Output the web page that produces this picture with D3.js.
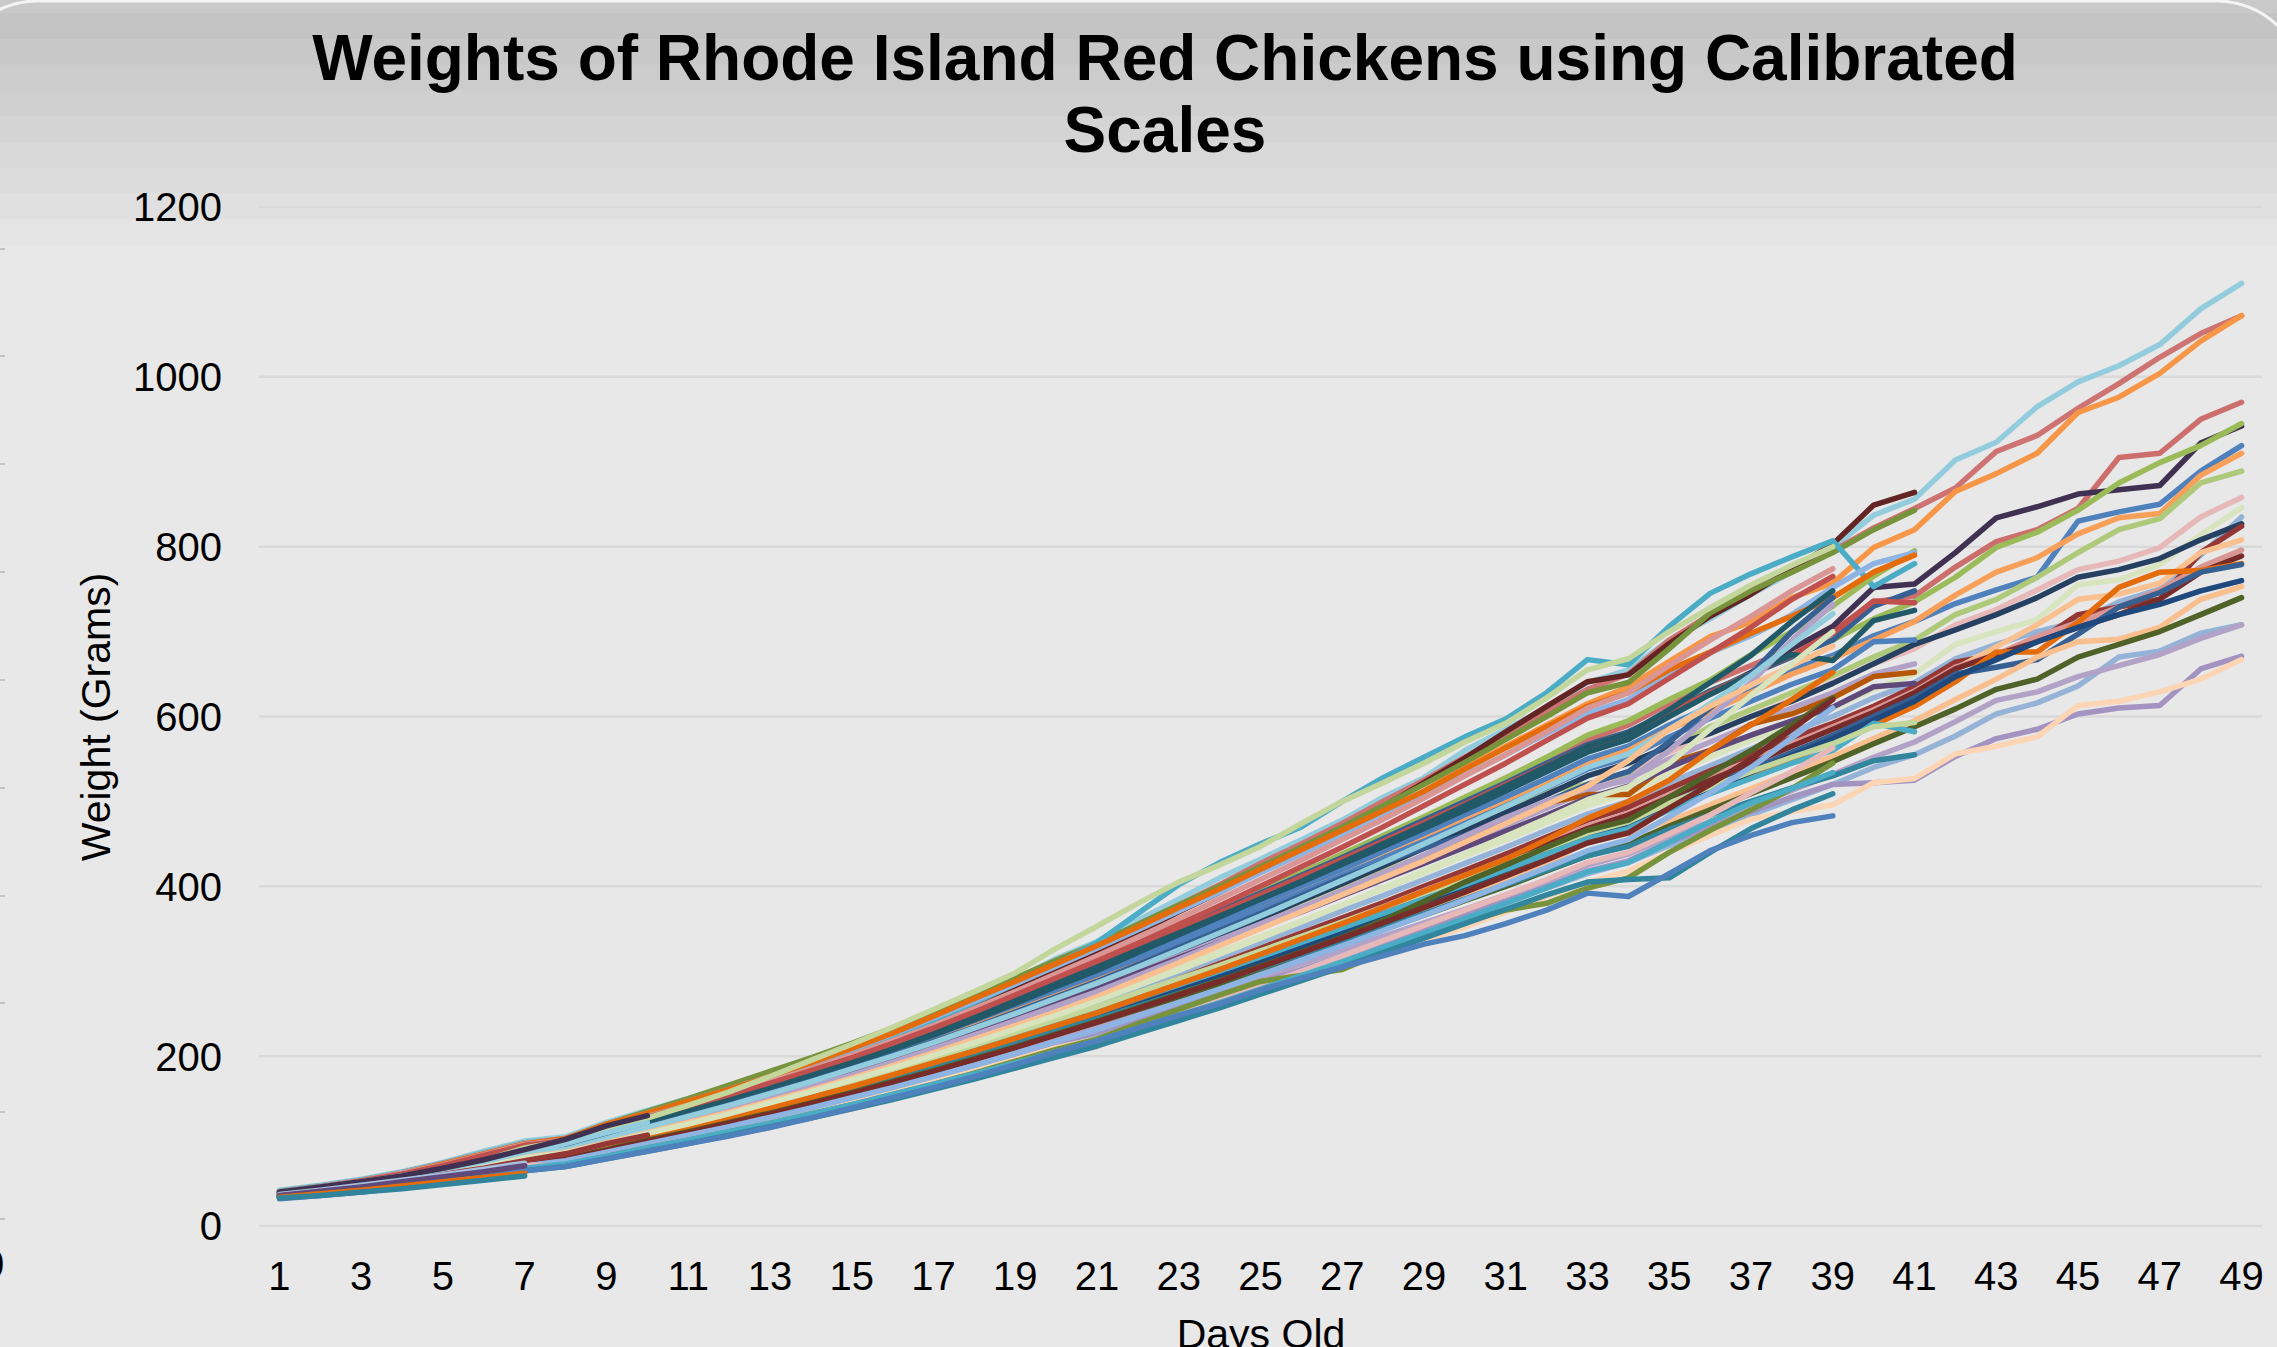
<!DOCTYPE html>
<meta charset="utf-8">
<style>
  body { margin: 0; background: #fff; }
  text { font-family: "Liberation Sans", Arial, sans-serif; fill: #000; }
  .grid { stroke: #d9d9d9; stroke-width: 2.5; }
  .chick { fill: none; stroke-width: 5.5; stroke-linejoin: round; stroke-linecap: round; }
</style>
<svg width="2277" height="1347"></svg>
<script src="https://cdnjs.cloudflare.com/ajax/libs/d3/7.8.5/d3.min.js"></script>
<script>

var days = [1,2,3,4,5,6,7,8,9,10,11,12,13,14,15,16,17,18,19,20,21,22,23,24,25,
            26,27,28,29,30,31,32,33,34,35,36,37,38,39,40,41,42,43,44,45,46,47,48,49];
var dayLabels = [1,3,5,7,9,11,13,15,17,19,21,23,25,27,29,31,33,35,37,39,41,43,45,47,49];
var weightTicks = [0,200,400,600,800,1000,1200];

// weighed up to day 49
var chick01 = [42,48,55,64,75,88,100,105,122,136,150,165,180,195,210,228,248,270,290,315,335,360,385,410,432,455,478,505,528,560,585,610,640,655,690,715,744,770,799,837,856,902,923,965,994,1013,1038,1080,1110];
var chick02 = [40,46,53,62,73,85,97,103,120,133,146,160,175,190,205,224,243,265,285,308,330,355,378,402,427,450,474,500,525,552,578,605,632,650,690,720,748,775,795,822,845,869,912,931,963,992,1023,1051,1072];
var chick03 = [40,46,52,61,71,83,95,100,117,130,144,158,173,188,203,220,240,260,280,303,325,347,370,394,417,440,464,488,512,540,565,590,615,635,665,694,711,740,757,799,820,865,886,910,958,976,1004,1042,1072];
var chick04 = [39,45,51,59,69,80,92,97,112,124,137,150,164,178,193,210,228,247,266,286,305,326,348,370,390,412,434,456,478,502,525,548,572,590,615,640,660,680,700,735,742,776,806,820,845,905,910,950,970];
var chick05 = [38,44,50,58,67,78,89,95,110,123,136,149,163,177,192,208,226,244,263,282,301,322,343,364,385,406,428,450,472,494,516,539,560,578,603,628,652,680,706,752,756,793,834,847,862,867,872,922,942];
var chick06 = [38,44,50,58,68,79,90,95,110,122,135,148,162,177,192,208,226,245,264,283,302,323,345,366,386,408,429,451,472,496,518,540,565,580,606,630,650,672,690,715,735,764,799,817,843,875,899,919,945];
var chick07 = [37,43,49,57,67,78,89,94,109,121,134,147,161,175,190,206,224,242,260,279,297,317,338,359,379,400,420,441,462,484,505,527,550,565,590,612,632,655,672,695,712,733,749,764,830,841,850,889,919];
var chick08 = [37,43,49,57,66,77,88,93,108,120,133,146,159,173,188,204,221,239,257,275,293,312,333,353,373,393,413,434,455,477,498,520,543,560,585,606,628,650,668,690,712,743,770,787,815,834,839,884,910];
var chick09 = [36,42,48,56,65,76,86,91,105,117,129,142,155,168,182,197,214,231,248,266,283,303,323,343,362,382,402,422,446,470,495,512,520,530,560,588,608,628,648,670,690,720,738,764,793,820,833,875,889];
var chick10 = [36,42,48,55,64,75,85,90,104,115,127,139,152,165,179,194,210,227,244,262,279,298,318,337,356,375,395,415,435,455,476,497,518,535,558,580,600,620,640,662,680,708,726,749,773,783,799,835,858];
var chick11 = [36,41,47,54,63,73,83,88,101,112,123,135,147,160,173,188,203,219,235,252,268,286,305,323,341,359,378,397,416,436,455,475,495,510,532,552,572,592,610,632,650,685,700,714,755,761,779,814,846];
var chick12 = [35,41,46,53,62,72,81,86,99,110,121,132,144,157,170,184,199,214,230,246,262,280,298,316,334,352,371,389,408,427,446,466,485,500,522,542,562,582,600,622,640,668,685,700,712,735,750,790,835];
var chick13 = [36,42,47,55,63,74,84,89,103,115,127,139,152,166,180,196,212,229,246,264,282,302,322,342,362,383,403,424,445,466,487,508,530,545,565,580,600,618,639,662,685,702,720,740,764,773,786,808,827];
var chick14 = [35,40,46,53,61,70,80,84,97,107,118,129,140,152,165,179,194,209,224,240,256,273,291,309,327,345,363,381,400,419,438,458,478,493,515,536,555,575,592,612,635,664,673,688,720,729,738,793,824];
var chick15 = [34,40,45,52,60,70,79,83,95,105,116,127,138,150,162,176,190,205,220,236,252,269,287,304,321,339,357,375,394,412,431,451,470,485,507,527,546,566,585,605,628,656,682,708,738,744,757,793,808];
var chick16 = [35,40,46,53,61,70,80,84,96,106,117,128,139,151,163,177,191,206,221,237,253,270,288,305,322,340,358,376,395,413,432,452,471,486,508,528,548,568,588,608,630,658,673,694,711,729,749,776,796];
var chick17 = [35,40,45,52,60,69,78,82,94,104,115,126,137,149,161,175,189,204,219,235,250,267,285,302,319,337,355,373,392,410,429,449,468,484,505,525,545,565,585,605,628,656,673,688,705,720,738,770,789];
var chick18 = [34,39,45,51,59,68,77,81,92,102,113,123,134,146,158,171,185,199,214,229,244,260,277,293,310,327,345,362,380,398,417,436,455,470,492,512,530,550,570,590,612,641,676,676,711,752,770,772,780];
var chick19 = [34,39,45,51,59,68,78,82,94,104,114,125,136,148,160,174,188,202,217,232,247,264,281,298,315,332,350,368,386,404,423,442,461,476,498,518,538,558,578,600,622,650,658,667,697,729,746,770,779];
var chick20 = [34,39,44,51,59,68,77,81,92,102,113,123,134,146,158,171,185,199,214,229,244,260,277,294,311,328,346,364,382,400,419,438,457,472,494,514,534,554,574,596,618,647,667,688,705,720,732,748,760];
var chick21 = [34,39,44,51,58,67,76,80,92,102,112,122,133,144,156,169,182,196,210,225,239,255,271,287,303,320,337,354,371,388,406,424,455,462,477,496,515,534,553,574,595,620,644,670,688,691,705,738,753];
var chick22 = [34,39,44,50,58,67,76,80,91,101,111,121,131,142,154,167,180,193,207,222,236,251,267,283,299,316,332,349,366,383,400,418,436,450,471,490,509,528,547,568,588,609,632,644,670,685,700,720,740];
var chick23 = [34,38,43,50,57,66,74,78,89,98,107,117,127,138,149,161,173,186,199,213,226,241,256,271,286,301,317,333,349,365,381,398,415,428,448,466,484,502,520,540,555,577,603,616,636,670,677,698,708];
var chick24 = [34,38,43,50,57,66,75,79,90,100,110,120,130,141,153,165,178,191,205,219,233,248,263,278,293,309,325,341,357,373,390,407,425,438,458,476,494,513,532,552,570,594,619,629,647,660,673,692,708];
var chick25 = [33,38,43,50,57,66,75,79,90,99,109,119,129,140,151,163,175,188,201,215,228,243,257,272,287,302,318,334,350,366,383,400,418,430,452,470,488,505,520,522,525,553,574,585,603,610,613,656,671];
var chick26 = [33,37,42,48,55,63,72,75,86,95,104,113,123,135,145,158,170,183,196,210,220,237,250,264,278,290,304,320,336,352,370,388,405,418,440,460,479,488,496,522,527,556,565,576,613,618,629,644,667];

// weighed up to day 41
var chick27 = [40,46,53,62,72,84,96,101,117,130,144,158,172,188,203,220,240,260,280,300,322,345,370,393,418,440,466,494,522,551,582,612,641,649,686,718,744,774,803,849,864];
var chick28 = [41,47,54,63,74,86,98,102,120,135,150,166,182,198,215,233,252,272,292,313,333,355,378,400,423,446,470,495,520,546,573,600,628,640,680,722,748,770,793,820,843];
var chick29 = [40,46,52,61,71,82,95,100,115,128,142,156,171,187,204,222,242,263,285,308,334,368,402,428,450,470,500,528,552,576,597,628,667,661,706,745,768,788,807,753,780];
var chick30 = [38,45,51,60,70,81,93,97,113,126,139,152,166,181,196,213,231,250,269,289,309,330,352,374,395,416,438,460,482,505,528,552,578,595,620,643,673,700,730,765,795];
var chick31 = [41,47,54,63,74,86,98,103,120,133,147,161,176,192,208,226,245,265,285,306,327,349,371,393,416,438,461,484,507,531,555,580,604,620,650,675,695,720,752,780,793];
var chick32 = [40,46,53,62,73,85,97,103,120,133,147,161,176,192,209,227,247,268,288,309,330,352,375,397,420,443,466,489,512,538,563,588,612,628,655,676,698,718,740,770,790];
var chick33 = [39,45,52,60,70,82,93,98,114,127,140,153,167,182,197,214,232,251,270,290,309,330,350,371,392,413,434,456,478,500,522,545,567,582,605,630,650,670,690,730,748];
var chick34 = [39,45,52,61,71,82,94,99,114,127,140,153,167,182,197,214,232,251,270,289,308,328,349,369,390,411,432,453,475,497,520,542,565,580,605,628,650,672,698,736,734];
var chick35 = [39,45,51,60,70,81,92,97,113,126,139,152,166,181,196,212,230,248,267,286,305,325,345,365,385,405,426,447,468,490,512,535,558,573,600,626,650,673,666,713,725];
var chick36 = [38,44,51,59,69,80,91,96,111,123,136,148,162,176,191,207,224,242,260,278,296,315,334,354,373,393,413,433,453,474,495,516,538,552,576,598,618,638,655,688,690];
var chick37 = [37,42,48,56,65,76,86,91,105,117,129,141,154,168,182,197,213,230,247,264,281,300,318,337,356,375,394,413,432,452,472,492,512,527,550,570,590,610,628,650,662];
var chick38 = [37,42,48,56,65,76,86,91,105,117,129,141,153,167,181,196,212,228,245,262,279,297,315,334,352,372,392,413,432,455,476,498,508,508,545,560,591,603,622,647,652];
var chick39 = [37,42,48,56,65,76,86,91,105,117,129,141,154,168,182,197,213,229,246,263,280,298,316,334,352,370,389,408,427,446,465,484,504,518,540,560,578,595,611,635,639];
var chick40 = [35,40,46,53,61,71,80,85,97,108,119,130,141,153,166,179,193,207,222,237,252,268,284,300,317,334,351,368,385,402,420,438,456,468,490,509,527,545,560,592,582];
var chick41 = [35,41,47,54,62,72,82,87,100,111,122,133,145,157,170,184,198,213,228,243,258,275,291,307,324,341,358,375,392,409,427,445,463,476,498,517,535,552,568,588,593];
var chick42 = [35,40,45,52,60,70,79,84,96,107,117,128,139,151,163,176,189,202,216,230,244,259,274,289,304,320,336,352,368,385,402,419,436,447,467,484,500,516,530,548,555];

// weighed up to day 39
var chick43 = [40,46,53,62,72,84,96,101,116,129,142,156,170,185,201,218,236,256,276,297,318,340,362,385,408,431,455,479,504,530,555,582,610,628,660,690,718,748,774];
var chick44 = [40,46,53,61,71,83,95,100,115,128,141,154,168,183,198,215,233,252,272,292,312,333,355,377,400,423,446,470,495,520,545,572,598,615,645,675,705,738,765];
var chick45 = [39,44,50,58,67,77,90,95,109,122,135,148,162,177,192,208,225,243,262,282,301,322,343,364,385,406,428,450,472,495,518,541,565,580,608,640,672,712,748];
var chick46 = [38,43,49,56,65,74,86,92,105,117,130,143,157,171,186,201,217,234,252,270,288,308,328,348,368,389,410,428,445,460,480,500,520,535,570,610,650,700,740];
var chick47 = [37,42,48,55,63,72,83,89,101,113,125,137,150,164,178,193,209,225,242,259,276,295,314,334,354,374,395,416,437,459,481,500,515,525,560,600,640,690,732];
var chick48 = [38,43,49,56,64,73,84,90,103,116,129,142,156,170,185,200,216,233,250,268,286,305,325,345,365,386,407,428,450,472,494,517,540,556,585,615,648,685,721];
var chick49 = [40,45,51,58,67,77,92,100,113,127,142,158,176,195,214,234,255,276,298,327,353,380,405,425,447,474,500,522,545,570,592,622,655,668,700,728,755,778,800];
var chick50 = [37,42,48,54,62,70,81,87,98,110,122,134,147,160,174,189,204,220,236,252,270,290,310,330,350,370,390,410,430,452,474,496,518,548,585,612,637,660,683];
var chick51 = [36,41,46,52,59,67,77,83,94,105,116,127,139,151,164,178,192,206,221,236,251,268,285,302,320,338,356,375,394,413,432,455,480,500,525,560,590,620,652];
var chick52 = [36,40,45,51,57,64,74,80,90,101,111,122,133,145,157,170,183,197,211,226,241,257,273,289,306,323,340,360,382,405,425,446,466,478,505,533,560,590,622];
var chick53 = [35,40,45,50,57,64,73,79,89,100,110,121,132,144,156,169,182,196,210,225,240,256,272,288,305,322,339,357,375,393,412,431,451,463,492,520,550,585,620];
var chick54 = [35,39,44,49,55,62,71,77,87,97,107,117,128,139,151,163,176,189,203,217,231,247,263,279,296,313,330,348,366,384,403,422,442,455,482,510,540,575,610];
var chick55 = [33,36,40,45,50,57,72,70,80,90,98,107,116,128,138,150,162,175,190,204,211,233,250,266,283,300,318,336,354,372,390,408,428,440,462,484,510,535,563];
var chick56 = [34,38,42,47,53,59,67,72,82,92,101,111,121,132,143,155,167,180,194,208,220,238,255,272,288,295,302,322,342,358,372,380,398,410,440,466,490,515,545];
var chick57 = [34,38,42,47,53,59,68,73,82,92,101,111,121,132,143,155,167,179,192,205,218,233,248,263,279,295,311,328,345,362,380,398,417,428,452,476,498,515,534];
var chick58 = [34,37,41,46,51,57,65,70,79,88,97,107,117,127,138,149,161,173,186,199,212,227,242,257,273,289,305,322,339,356,373,390,405,408,410,440,468,490,509];
var chick59 = [32,36,40,45,51,57,65,70,79,88,97,106,116,127,139,151,163,176,190,205,218,233,248,262,278,292,305,318,332,342,356,372,392,388,415,442,460,475,483];
var chick60 = [37,42,48,54,62,70,80,86,97,109,120,132,145,158,172,186,201,216,232,248,265,283,301,320,339,358,378,398,418,438,459,480,502,517,545,585,625,662,700];

// weighed up to day 10
var chick61 = [38,43,48,54,61,68,77,85,97,107];
var chick62 = [40,46,52,59,67,76,87,97,110,122];
var chick63 = [40,46,52,59,68,78,90,102,118,130];

// weighed up to day 7
var chick64 = [37,42,48,54,60,67,74];
var chick65 = [36,41,46,52,58,64,71];
var chick66 = [34,38,42,47,52,57,62];
var chick67 = [33,36,40,44,49,54,59];

var chicks = [chick01,chick02,chick03,chick04,chick05,chick06,chick07,chick08,chick09,chick10,
              chick11,chick12,chick13,chick14,chick15,chick16,chick17,chick18,chick19,chick20,
              chick21,chick22,chick23,chick24,chick25,chick26,chick27,chick28,chick29,chick30,
              chick31,chick32,chick33,chick34,chick35,chick36,chick37,chick38,chick39,chick40,
              chick41,chick42,chick43,chick44,chick45,chick46,chick47,chick48,chick49,chick50,
              chick51,chick52,chick53,chick54,chick55,chick56,chick57,chick58,chick59,chick60,
              chick61,chick62,chick63,chick64,chick65,chick66,chick67];

var chickColors = [
  "#93CDDD","#CD7371","#F79646","#CC6F6C","#403152","#9BBB59","#4F81BD","#F8A059","#AFC97A","#E6B9B8",
  "#D7E4BD","#95B3D7","#254061","#953735","#FAC090","#D99694","#772C2A","#E46C0A","#366092","#1F497D",
  "#FABF8F","#4F6228","#95B3D7","#B3A2C7","#A393C1","#FCD5B5",
  "#632523","#77933C","#4BACC6","#9BBB59","#8DB4E2","#E46C0A","#366092","#C0504D","#215968","#4F81BD",
  "#B3A2C7","#B65708","#5F497A","#4BACC6","#C3D69B","#31859C",
  "#D99694","#C0504D","#215968","#366092","#B3A2C7","#93CDDD","#C3D69B","#FAC090","#E46C0A","#4F6228",
  "#772C2A","#8DB4E2","#E6B9B8","#77933C","#4BACC6","#31859C","#4F81BD","#D7E4BD",
  "#953735","#93CDDD","#403152",
  "#A6C0DF","#604A7B","#E46C0A","#31849B"];

var svg = d3.select("svg"),
    width = +svg.attr("width"),
    height = +svg.attr("height");

// banded grey background
var bandTop = 13, bandH = 25.8, nBands = 9;
svg.append("rect").attr("width", width).attr("height", height).attr("fill", "#e8e8e8");
svg.append("rect").attr("width", width).attr("height", bandTop).attr("fill", "#c9c9c9");
var shade = d3.interpolateRgb("#c4c4c4", "#e4e4e4");
svg.selectAll(".band")
    .data(d3.range(nBands))
  .enter().append("rect")
    .attr("class", "band")
    .attr("x", 0)
    .attr("y", function(i) { return bandTop + i * bandH; })
    .attr("width", width)
    .attr("height", bandH + 0.5)
    .attr("fill", function(i) { return shade(i / (nBands - 1)); });

// border of the chart card
svg.append("rect")
    .attr("x", -50).attr("y", 1)
    .attr("width", 2354).attr("height", 1400)
    .attr("rx", 87).attr("ry", 87)
    .attr("fill", "none")
    .attr("stroke", "#f4f4f4")
    .attr("stroke-width", 3);

// bits of the neighbouring chart on the left edge
svg.selectAll(".edge")
    .data([249, 356, 464, 572, 680, 788, 896, 1003, 1112, 1219])
  .enter().append("line")
    .attr("x1", 0).attr("x2", 5)
    .attr("y1", function(d) { return d; }).attr("y2", function(d) { return d; })
    .attr("stroke", "#c4c4c4").attr("stroke-width", 2);
svg.append("text").attr("x", -18).attr("y", 1278).style("font-size", "40px").text("0");

var x = d3.scalePoint().domain(days).range([259, 2262]).padding(0.5);
var y = d3.scaleLinear().domain([0, 1200]).range([1226, 207]);

svg.selectAll(".grid")
    .data(weightTicks)
  .enter().append("line")
    .attr("class", "grid")
    .attr("x1", 259).attr("x2", 2262)
    .attr("y1", function(d) { return y(d); })
    .attr("y2", function(d) { return y(d); });

svg.selectAll(".ytick")
    .data(weightTicks)
  .enter().append("text")
    .attr("class", "ytick")
    .attr("x", 222)
    .attr("y", function(d) { return y(d); })
    .attr("dy", "0.36em")
    .attr("text-anchor", "end")
    .style("font-size", "40px")
    .text(function(d) { return d; });

svg.selectAll(".xtick")
    .data(dayLabels)
  .enter().append("text")
    .attr("class", "xtick")
    .attr("x", function(d) { return x(d); })
    .attr("y", 1290)
    .attr("text-anchor", "middle")
    .style("font-size", "40px")
    .text(function(d) { return d; });

var line = d3.line()
    .x(function(d, i) { return x(days[i]); })
    .y(function(d) { return y(d); });

svg.selectAll(".chick")
    .data(chicks)
  .enter().append("path")
    .attr("class", "chick")
    .attr("stroke", function(d, i) { return chickColors[i]; })
    .attr("d", line);

svg.append("text")
    .attr("x", 1165).attr("y", 80)
    .attr("text-anchor", "middle")
    .style("font-size", "64px").style("font-weight", "bold")
    .text("Weights of Rhode Island Red Chickens using Calibrated");
svg.append("text")
    .attr("x", 1165).attr("y", 152)
    .attr("text-anchor", "middle")
    .style("font-size", "64px").style("font-weight", "bold")
    .text("Scales");

svg.append("text")
    .attr("transform", "translate(110,717) rotate(-90)")
    .attr("text-anchor", "middle")
    .style("font-size", "41px")
    .text("Weight (Grams)");

svg.append("text")
    .attr("x", 1261).attr("y", 1348)
    .attr("text-anchor", "middle")
    .style("font-size", "41px")
    .text("Days Old");

</script>
